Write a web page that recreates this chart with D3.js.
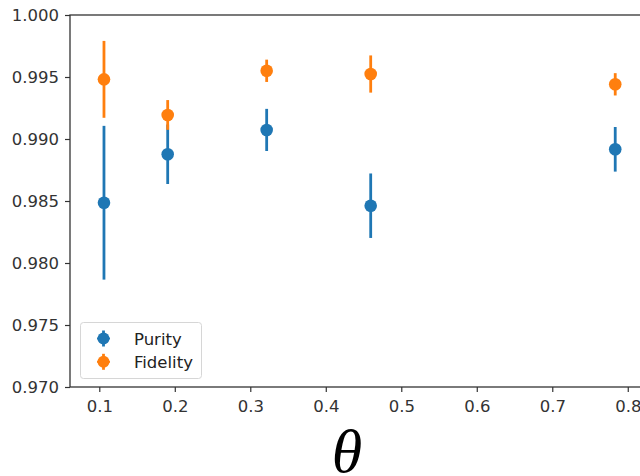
<!DOCTYPE html>
<html>
<head>
<meta charset="utf-8">
<script src="https://cdn.jsdelivr.net/npm/d3@7"></script>
<style>
  html, body { margin: 0; padding: 0; background: #fff; overflow: hidden; }
  svg { display: block; }
  text { font-family: "DejaVu Sans", sans-serif; }
</style>
</head>
<body>
<svg id="chart" width="640" height="476"></svg>
<script>
// ---- data ----
const theta = [0.1062, 0.1906, 0.3217, 0.4595, 0.7834];
const purity = [0.98486, 0.98877, 0.99073, 0.98462, 0.98917];
const purityErr = [0.0062, 0.0024, 0.0017, 0.0026, 0.0018];
const fidelity = [0.99481, 0.99194, 0.99550, 0.99524, 0.99441];
const fidelityErr = [0.0031, 0.0012, 0.0009, 0.0015, 0.0009];
const xTicks = [0.1, 0.2, 0.3, 0.4, 0.5, 0.6, 0.7, 0.8];
const yTicks = [0.970, 0.975, 0.980, 0.985, 0.990, 0.995, 1.000];
const seriesNames = ["Purity", "Fidelity"];
const seriesColors = ["#1f77b4", "#ff7f0e"];

const svg = d3.select("#chart");
const mLeft = 70, mRight = 660, mTop = 15, mBottom = 387;

const x = d3.scaleLinear().domain([0.0612, 0.8427]).range([mLeft, mRight]);
const y = d3.scaleLinear().domain([0.970, 1.000]).range([mBottom, mTop]);

// axes
const xAxis = d3.axisBottom(x).tickValues(xTicks).tickFormat(d3.format(".1f")).tickSize(5).tickPadding(8);
const yAxis = d3.axisLeft(y).tickValues(yTicks).tickFormat(d3.format(".3f")).tickSize(5).tickPadding(6);

const gx = svg.append("g").attr("transform", `translate(0,${mBottom})`).call(xAxis);
const gy = svg.append("g").attr("transform", `translate(${mLeft},0)`).call(yAxis);
[gx, gy].forEach(g => {
  g.select(".domain").remove();
  g.selectAll(".tick line").attr("stroke", "#333").attr("stroke-width", 1.2);
  g.selectAll(".tick text").attr("fill", "#333").style("font-size", "16.5px").style("font-family", "DejaVu Sans");
});

// spines
svg.append("rect").attr("x", mLeft).attr("y", mTop).attr("width", mRight - mLeft).attr("height", mBottom - mTop)
  .attr("fill", "none").attr("stroke", "#333").attr("stroke-width", 1.3);

// series
const series = [
  {name: seriesNames[0], vals: purity, errs: purityErr, color: seriesColors[0]},
  {name: seriesNames[1], vals: fidelity, errs: fidelityErr, color: seriesColors[1]}
];
series.forEach(s => {
  const g = svg.append("g");
  const pts = theta.map((t, i) => ({t, v: s.vals[i], e: s.errs[i]}));
  g.selectAll("line").data(pts).enter().append("line")
    .attr("x1", d => x(d.t)).attr("x2", d => x(d.t))
    .attr("y1", d => y(d.v - d.e)).attr("y2", d => y(d.v + d.e))
    .attr("stroke", s.color).attr("stroke-width", 2.8);
  g.selectAll("circle").data(pts).enter().append("circle")
    .attr("cx", d => x(d.t)).attr("cy", d => y(d.v)).attr("r", 6.3)
    .attr("fill", s.color);
});

// legend
const lg = svg.append("g");
lg.append("rect").attr("x", 80.5).attr("y", 322.5).attr("width", 121).attr("height", 56).attr("rx", 3)
  .attr("fill", "#fff").attr("fill-opacity", 0.8).attr("stroke", "#d6d6d6").attr("stroke-width", 1);
series.forEach((s, i) => {
  const cy = 338.5 + i * 23.3;
  lg.append("line").attr("x1", 103.5).attr("x2", 103.5).attr("y1", cy - 8).attr("y2", cy + 8)
    .attr("stroke", s.color).attr("stroke-width", 2.8);
  lg.append("line").attr("x1", 97).attr("x2", 110).attr("y1", cy).attr("y2", cy)
    .attr("stroke", s.color).attr("stroke-width", 2);
  lg.append("circle").attr("cx", 103.5).attr("cy", cy).attr("r", 6).attr("fill", s.color);
  lg.append("text").attr("x", 134).attr("y", cy + 6).text(s.name)
    .attr("fill", "#222").style("font-size", "16.5px");
});

// x label
svg.append("text").attr("x", 347).attr("y", 472).attr("text-anchor", "middle")
  .style("font-family", "'Liberation Serif', 'DejaVu Serif', serif").style("font-style", "italic")
  .style("font-size", "62px").attr("fill", "#000").text("θ");
</script>
</body>
</html>
